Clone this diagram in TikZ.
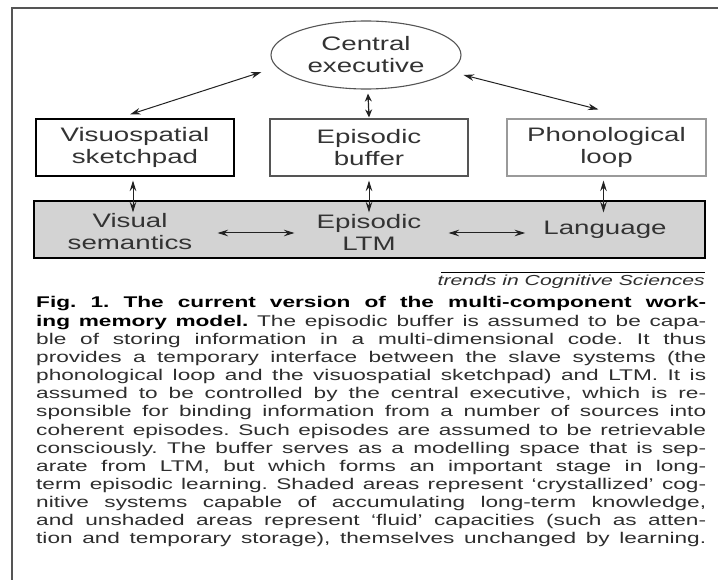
\documentclass[tikz,border=0pt]{standalone}
\usepackage{fontspec}
\setmainfont{Liberation Sans}
\newfontfamily\diagfont[FakeStretch=1.42]{Liberation Sans}
\newfontfamily\capfont[FakeStretch=1.46]{Liberation Sans}
\usetikzlibrary{arrows.meta,shapes.geometric,calc}
\definecolor{txt}{HTML}{333333}
\definecolor{captxt}{HTML}{2E2E2E}
\definecolor{ltmfill}{HTML}{D3D3D3}
\definecolor{arrc}{HTML}{222222}
\definecolor{framec}{HTML}{555555}
\definecolor{lightborder}{HTML}{9A9A9A}
\definecolor{midborder}{HTML}{555555}
\newcommand{\capline}[1]{\hbox to 670pt{#1}}
\frenchspacing
\begin{document}
\begin{tikzpicture}[x=1pt,y=-1pt,
  font=\diagfont\fontsize{19.5}{22}\selectfont,
  box/.style={draw, rectangle, minimum width=198pt, minimum height=57pt, align=center, text=txt, line width=1.1pt},
  lbl/.style={inner sep=0pt, align=center, text=txt},
  arr/.style={draw=arrc, line width=1pt, {Stealth[length=10.5pt,width=6.5pt]}-{Stealth[length=10.5pt,width=6.5pt]}},
  arrshort/.style={draw=arrc, line width=1.2pt, {Stealth[length=8pt,width=7pt]}-{Stealth[length=8pt,width=7pt]}}]
\useasboundingbox (0,0) rectangle (718,580);
\fill[white] (0,0) rectangle (718,580);
% frame
\draw[framec, line width=2pt] (12,580) -- (12,8) -- (718,8);
% LTM band
\node[draw=black, fill=ltmfill, line width=1.1pt, minimum width=671pt, minimum height=57pt, inner sep=0pt] (ltm) at (369.5,229.5) {};
% central executive
\node[ellipse, draw=midborder, line width=1.1pt, minimum width=190pt, minimum height=68pt, inner sep=0pt, align=center, text=txt] (ce) at (366,55) {Central\\executive};
% slave systems
\node[box, draw=black] (vs) at (135,147.5) {Visuospatial\\sketchpad};
\node[box, draw=midborder] (eb) at (369,147.5) {Episodic\\buffer};
\node[box, draw=lightborder, minimum width=199pt] (pl) at (606.5,147.5) {Phonological\\loop};
% LTM labels
\node[lbl] (vsem) at (130,232) {Visual\\semantics};
\node[lbl] (eltm) at (369,232) {Episodic\\LTM};
\node[lbl] (lang) at (605,230) {Language};
% arrows
\draw[arr] ($(ce.west)+(-9,17)$) -- ($(vs.north)+(-5,-4)$);
\draw[arr] ($(ce.east)+(2,20)$) -- ($(pl.north)+(-8,-9)$);
\draw[arrshort] ($(ce.south)+(2,4)$) -- ($(eb.north)+(0,-1)$);
\draw[arr] ($(vs.south)+(-2,4)$) -- ($(vs.south |- ltm.north)+(-2,12)$);
\draw[arr] ($(eb.south)+(0,4)$) -- ($(eb.south |- ltm.north)+(0,12)$);
\draw[arr] ($(pl.south)+(-3,4)$) -- ($(pl.south |- ltm.north)+(-3,12)$);
\draw[arr] ([xshift=25pt]vsem.east |- 0,233) -- ([xshift=-22pt]eltm.west |- 0,233);
\draw[arr] ([xshift=27pt]eltm.east |- 0,233) -- ([xshift=-18pt]lang.west |- 0,233);
% source line
\draw[black, line width=0.8pt] (441,272) -- (705,272);
\node[inner sep=0pt, anchor=base east, text=captxt, font=\capfont\itshape\fontsize{14.5}{16}\selectfont] (src) at (705,286) {trends in Cognitive Sciences};
% caption
\node[inner sep=0pt, anchor=base west, text=captxt, font=\capfont\fontsize{15.5}{18.15}\selectfont] (cap) at (36,308) {\vtop{\baselineskip=18.15pt
\capline{\bfseries\color{black}Fig. 1. The current version of the multi-component work-}
\capline{{\bfseries\color{black}ing memory model.} The episodic buffer is assumed to be capa-}
\capline{ble of storing information in a multi-dimensional code. It thus}
\capline{provides a temporary interface between the slave systems (the}
\capline{phonological loop and the visuospatial sketchpad) and LTM. It is}
\capline{assumed to be controlled by the central executive, which is re-}
\capline{sponsible for binding information from a number of sources into}
\capline{coherent episodes. Such episodes are assumed to be retrievable}
\capline{consciously. The buffer serves as a modelling space that is sep-}
\capline{arate from LTM, but which forms an important stage in long-}
\capline{term episodic learning. Shaded areas represent ‘crystallized’ cog-}
\capline{nitive systems capable of accumulating long-term knowledge,}
\capline{and unshaded areas represent ‘fluid’ capacities (such as atten-}
\capline{tion and temporary storage), themselves unchanged by learning.}}};
\end{tikzpicture}
\end{document}
